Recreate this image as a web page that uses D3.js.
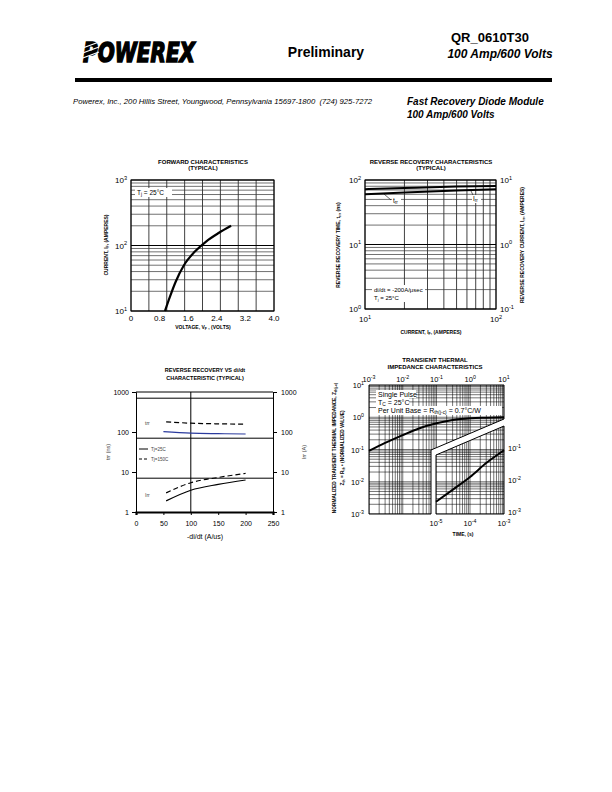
<!DOCTYPE html>
<html>
<head>
<meta charset="utf-8">
<script src="https://cdnjs.cloudflare.com/ajax/libs/d3/7.8.5/d3.min.js"></script>
<style>
body { margin: 0; background: #fff; }
svg { display: block; }
text { white-space: pre; }
</style>
</head>
<body>
<script>
// forward characteristics (volts, amperes)
var fwdVolts = [0.95, 1.08, 1.25, 1.48, 1.78, 2.1, 2.45, 2.8];
var fwdAmps = [10, 16, 28, 50, 80, 115, 155, 200];
var fwdVoltTicks = [0, 0.8, 1.6, 2.4, 3.2, 4.0];

// reverse recovery vs forward current
var rrAmps = [10, 20, 50, 100];
var rrTime = [60, 64, 69, 72];        // trr, ns (left axis)
var rrCurrent = [7.2, 7.5, 7.9, 8.1]; // Irr, A (right axis)

// reverse recovery vs di/dt
var didtA = [50, 100, 150, 200];
var didtB = [55, 100, 150, 200];
var trr25 = [102, 94, 91, 89];
var trr150 = [180, 166, 160, 157];
var irr25 = [1.9, 3.5, 4.9, 6.3];
var irr150 = [3.0, 5.4, 7.3, 9.2];
var didtTicks = [0, 50, 100, 150, 200, 250];
var recTicks = [1, 10, 100, 1000];
var recGrid = [7, 70, 700, 1000];

// transient thermal impedance
var zthTimeLong = [1e-3, 3e-3, 1e-2, 3e-2, 1e-1, 3e-1, 1, 3, 10];
var zthLong = [0.09, 0.16, 0.28, 0.45, 0.65, 0.82, 0.93, 0.97, 1.0];
var zthTimeShort = [1e-5, 3e-5, 1e-4, 3e-4, 1e-3];
var zthShort = [0.0024, 0.0055, 0.014, 0.038, 0.095];

var svg = d3.select("body").append("svg")
    .attr("width", 612)
    .attr("height", 792)
    .style("font-family", "'Liberation Sans', Arial, sans-serif");

svg.append("rect").attr("width", 612).attr("height", 792).attr("fill", "#fff");

// text with sub/superscripts: parts = ["10", ["3","sup"]]
function rich(g, x, y, parts, o) {
    var t = g.append("text")
        .attr("x", x).attr("y", y)
        .attr("font-size", o.size)
        .attr("text-anchor", o.anchor || "middle")
        .attr("font-weight", o.bold ? "bold" : "normal")
        .attr("font-style", o.italic ? "italic" : "normal")
        .attr("fill", o.fill || "#000");
    if (o.rotate) t.attr("transform", "rotate(" + o.rotate + " " + x + " " + y + ")");
    var cur = 0;
    parts.forEach(function(p) {
        if (typeof p === "string") p = [p, null];
        var off = p[1] === "sup" ? -0.4 * o.size : (p[1] === "sub" ? 0.2 * o.size : 0);
        var ts = t.append("tspan").attr("dy", off - cur).text(p[0]);
        if (p[1]) ts.attr("font-size", o.size * 0.7);
        cur = off;
    });
    return t;
}

function pow(g, x, y, e, anchor, size) {
    return rich(g, x, y, ["10", [String(e), "sup"]], {size: size, anchor: anchor});
}

function hline(g, x0, x1, y, w, c) {
    g.append("line").attr("x1", x0).attr("x2", x1).attr("y1", y).attr("y2", y)
        .attr("stroke", c || "#000").attr("stroke-width", w);
}
function vline(g, x, y0, y1, w, c) {
    g.append("line").attr("x1", x).attr("x2", x).attr("y1", y0).attr("y2", y1)
        .attr("stroke", c || "#000").attr("stroke-width", w);
}

// ---------------- header ----------------
var head = svg.append("g");
head.append("text")
    .attr("x", 83).attr("y", 62)
    .attr("font-family", "'DejaVu Sans', sans-serif")
    .attr("font-size", 27).attr("font-weight", "bold").attr("font-style", "italic")
    .attr("stroke", "#000").attr("stroke-width", 1.6)
    .attr("textLength", 112).attr("lengthAdjust", "spacingAndGlyphs")
    .text("POWEREX");
// stripes through the logo's first letter
[45, 50, 55].forEach(function(y) {
    head.append("line").attr("x1", 80).attr("x2", 99).attr("y1", y + 4).attr("y2", y - 3)
        .attr("stroke", "#fff").attr("stroke-width", 1.3);
});
head.append("text").attr("x", 326).attr("y", 57).attr("text-anchor", "middle")
    .attr("font-size", 14).attr("font-weight", "bold").text("Preliminary");
head.append("text").attr("x", 490).attr("y", 42).attr("text-anchor", "middle")
    .attr("font-size", 13).attr("font-weight", "bold").text("QR_0610T30");
head.append("text").attr("x", 500).attr("y", 58).attr("text-anchor", "middle")
    .attr("font-size", 12).attr("font-weight", "bold").attr("font-style", "italic")
    .text("100 Amp/600 Volts");
head.append("rect").attr("x", 75).attr("y", 78).attr("width", 477).attr("height", 4);
head.append("text").attr("x", 73).attr("y", 104)
    .attr("font-size", 7.7).attr("font-style", "italic")
    .text("Powerex, Inc., 200 Hillis Street, Youngwood, Pennsylvania 15697-1800  (724) 925-7272");
head.append("text").attr("x", 407).attr("y", 105)
    .attr("font-size", 10).attr("font-weight", "bold").attr("font-style", "italic")
    .text("Fast Recovery Diode Module");
head.append("text").attr("x", 407).attr("y", 118)
    .attr("font-size", 10).attr("font-weight", "bold").attr("font-style", "italic")
    .text("100 Amp/600 Volts");

// ---------------- forward characteristics ----------------
var g1 = svg.append("g");
var x1s = d3.scaleLinear().domain([0, 4]).range([131, 274]);
var y1s = d3.scaleLog().domain([10, 1000]).range([311, 180]);

x1s.ticks(10).forEach(function(v) { vline(g1, x1s(v), 180, 311, 0.8, "#111"); });
y1s.ticks().forEach(function(v) {
    var major = Math.abs(Math.log10(v) % 1) < 1e-9;
    hline(g1, 131, 274, y1s(v), major ? 1 : 0.7, major ? "#000" : "#333");
});
g1.append("rect").attr("x", 131).attr("y", 180).attr("width", 143).attr("height", 131)
    .attr("fill", "none").attr("stroke", "#000").attr("stroke-width", 1);

g1.append("rect").attr("x", 135).attr("y", 188).attr("width", 37).attr("height", 9).attr("fill", "#fff");
rich(g1, 137, 195, ["T", ["j", "sub"], " = 25°C"], {size: 6.5, anchor: "start"});

g1.append("path")
    .datum(d3.zip(fwdVolts, fwdAmps))
    .attr("fill", "none").attr("stroke", "#000").attr("stroke-width", 2.2)
    .attr("d", d3.line().x(d => x1s(d[0])).y(d => y1s(d[1])).curve(d3.curveMonotoneX));

fwdVoltTicks.forEach(function(v) {
    g1.append("text").attr("x", x1s(v)).attr("y", 321).attr("text-anchor", "middle")
        .attr("font-size", 8).text(v === 0 ? "0" : d3.format(".1f")(v));
});
[1, 2, 3].forEach(function(e) { pow(g1, 127, y1s(Math.pow(10, e)) + 3, e, "end", 8); });

g1.append("text").attr("x", 203).attr("y", 164).attr("text-anchor", "middle")
    .attr("font-size", 6).attr("font-weight", "bold").text("FORWARD CHARACTERISTICS");
g1.append("text").attr("x", 203).attr("y", 170).attr("text-anchor", "middle")
    .attr("font-size", 6).attr("font-weight", "bold").text("(TYPICAL)");
rich(g1, 108, 245, ["CURRENT, I", ["F", "sub"], ", (AMPERES)"], {size: 5, bold: true, rotate: -90});
rich(g1, 203, 329, ["VOLTAGE, V", ["F", "sub"], " , (VOLTS)"], {size: 5, bold: true});

// ---------------- reverse recovery characteristics ----------------
var g2 = svg.append("g");
var x2s = d3.scaleLog().domain([10, 100]).range([365, 496]);
var y2s = d3.scaleLog().domain([1, 100]).range([309, 180]);
var y2r = d3.scaleLog().domain([0.1, 10]).range([309, 180]);

x2s.ticks().forEach(function(v) { vline(g2, x2s(v), 180, 309, 0.8, "#111"); });
y2s.ticks().forEach(function(v) {
    var major = Math.abs(Math.log10(v) % 1) < 1e-9;
    hline(g2, 365, 496, y2s(v), major ? 1 : 0.7, major ? "#000" : "#333");
});
g2.append("rect").attr("x", 365).attr("y", 180).attr("width", 131).attr("height", 129)
    .attr("fill", "none").attr("stroke", "#000").attr("stroke-width", 1);

g2.append("path")
    .datum(d3.zip(rrAmps, rrTime))
    .attr("fill", "none").attr("stroke", "#000").attr("stroke-width", 2)
    .attr("d", d3.line().x(d => x2s(d[0])).y(d => y2s(d[1])).curve(d3.curveMonotoneX));
g2.append("path")
    .datum(d3.zip(rrAmps, rrCurrent))
    .attr("fill", "none").attr("stroke", "#000").attr("stroke-width", 2)
    .attr("d", d3.line().x(d => x2s(d[0])).y(d => y2r(d[1])).curve(d3.curveMonotoneX));

g2.append("line").attr("x1", 384).attr("y1", 194).attr("x2", 391).attr("y2", 200)
    .attr("stroke", "#000").attr("stroke-width", 0.6);
g2.append("rect").attr("x", 392).attr("y", 197).attr("width", 9).attr("height", 8).attr("fill", "#fff");
rich(g2, 393, 203, ["t", ["rr", "sub"]], {size: 6.5, anchor: "start"});
g2.append("line").attr("x1", 470).attr("y1", 189).attr("x2", 473).attr("y2", 195)
    .attr("stroke", "#000").attr("stroke-width", 0.6);
g2.append("rect").attr("x", 472).attr("y", 195).attr("width", 9).attr("height", 8).attr("fill", "#fff");
rich(g2, 473, 201, ["I", ["rr", "sub"]], {size: 6.5, anchor: "start"});

g2.append("rect").attr("x", 372).attr("y", 285).attr("width", 53).attr("height", 17).attr("fill", "#fff");
g2.append("text").attr("x", 374).attr("y", 292).attr("font-size", 6).text("di/dt = -200A/μsec");
rich(g2, 374, 300, ["T", ["j", "sub"], " = 25°C"], {size: 6, anchor: "start"});

pow(g2, 365, 322, 1, "middle", 8);
pow(g2, 496, 322, 2, "middle", 8);
[2, 1, 0].forEach(function(e) { pow(g2, 361, y2s(Math.pow(10, e)) + 3, e, "end", 8); });
[1, 0, -1].forEach(function(e) { pow(g2, 500, y2r(Math.pow(10, e)) + 3, e, "start", 8); });

g2.append("text").attr("x", 431).attr("y", 164).attr("text-anchor", "middle")
    .attr("font-size", 6).attr("font-weight", "bold").text("REVERSE RECOVERY CHARACTERISTICS");
g2.append("text").attr("x", 431).attr("y", 170).attr("text-anchor", "middle")
    .attr("font-size", 6).attr("font-weight", "bold").text("(TYPICAL)");
rich(g2, 340, 245, ["REVERSE RECOVERY TIME, t", ["rr", "sub"], ", (ns)"], {size: 5, bold: true, rotate: -90});
rich(g2, 524, 245, ["REVERSE RECOVERY CURRENT, I", ["rr", "sub"], ", (AMPERES)"], {size: 5, bold: true, rotate: -90});
rich(g2, 431, 334, ["CURRENT, I", ["F", "sub"], ", (AMPERES)"], {size: 5, bold: true});

// ---------------- reverse recovery vs di/dt ----------------
var g3 = svg.append("g");
var x3s = d3.scaleLinear().domain([0, 250]).range([136, 273]);
var y3s = d3.scaleLog().domain([1, 1000]).range([512, 392]);

recGrid.forEach(function(v) { hline(g3, 136, 273, y3s(v), 1); });
vline(g3, x3s(100), 392, 512, 1);

g3.append("g").attr("transform", "translate(136,0)")
    .call(d3.axisLeft(y3s).tickValues(recTicks).tickFormat(d3.format("d")).tickSize(4).tickPadding(3))
    .call(a => a.selectAll("text").attr("font-size", 7).attr("font-family", null));
g3.append("g").attr("transform", "translate(273,0)")
    .call(d3.axisRight(y3s).tickValues(recTicks).tickFormat(d3.format("d")).tickSize(4).tickPadding(4))
    .call(a => a.selectAll("text").attr("font-size", 7).attr("font-family", null));
g3.append("g").attr("transform", "translate(0,512)")
    .call(d3.axisBottom(x3s).tickValues(didtTicks).tickSize(3).tickPadding(6))
    .call(a => a.selectAll("text").attr("font-size", 7).attr("font-family", null))
    .call(a => a.select(".domain").attr("stroke-width", 2.2));
g3.selectAll(".domain").attr("stroke", "#000");

var line3 = d3.line().x(d => x3s(d[0])).y(d => y3s(d[1])).curve(d3.curveMonotoneX);
g3.append("path").datum(d3.zip(didtB, trr150))
    .attr("fill", "none").attr("stroke", "#000").attr("stroke-width", 1.2)
    .attr("stroke-dasharray", "5,3").attr("d", line3);
g3.append("path").datum(d3.zip(didtA, trr25))
    .attr("fill", "none").attr("stroke", "#2b3b9e").attr("stroke-width", 1.2).attr("d", line3);
g3.append("path").datum(d3.zip(didtB, irr150))
    .attr("fill", "none").attr("stroke", "#000").attr("stroke-width", 1.2)
    .attr("stroke-dasharray", "5,3").attr("d", line3);
g3.append("path").datum(d3.zip(didtB, irr25))
    .attr("fill", "none").attr("stroke", "#000").attr("stroke-width", 1.2).attr("d", line3);

g3.append("text").attr("x", 145).attr("y", 425).attr("font-size", 5).attr("fill", "#444").text("trr");
g3.append("text").attr("x", 145).attr("y", 497).attr("font-size", 5).attr("fill", "#444").text("Irr");
hline(g3, 139, 148, 449, 1);
g3.append("text").attr("x", 151).attr("y", 451).attr("font-size", 4.5).attr("fill", "#444").text("Tj=25C");
g3.append("line").attr("x1", 139).attr("x2", 148).attr("y1", 459).attr("y2", 459)
    .attr("stroke", "#000").attr("stroke-width", 1).attr("stroke-dasharray", "3,2");
g3.append("text").attr("x", 151).attr("y", 461).attr("font-size", 4.5).attr("fill", "#444").text("Tj=150C");

g3.append("text").attr("x", 205).attr("y", 372).attr("text-anchor", "middle")
    .attr("font-size", 5.5).attr("font-weight", "bold").text("REVERSE RECOVERY VS di/dt");
g3.append("text").attr("x", 205).attr("y", 380).attr("text-anchor", "middle")
    .attr("font-size", 5.5).attr("font-weight", "bold").text("CHARACTERISTIC (TYPICAL)");
g3.append("text").attr("transform", "translate(110,452) rotate(-90)").attr("text-anchor", "middle")
    .attr("font-size", 5.5).attr("fill", "#444").text("trr (ns)");
g3.append("text").attr("transform", "translate(306,452) rotate(-90)").attr("text-anchor", "middle")
    .attr("font-size", 5.5).attr("fill", "#444").text("Irr (A)");
g3.append("text").attr("x", 205).attr("y", 539).attr("text-anchor", "middle")
    .attr("font-size", 7).text("-di/dt (A/us)");

// ---------------- transient thermal impedance ----------------
var g4 = svg.append("g");
var x4top = d3.scaleLog().domain([1e-3, 10]).range([369, 504]);
var x4bot = d3.scaleLog().domain([1e-5, 1e-3]).range([436, 504]);
var y4 = d3.scaleLog().domain([1e-3, 10]).range([514, 385]);

var upperPoly = [[369, 385], [504, 385], [504, 419], [431, 450], [431, 514], [369, 514]];
var lowerPoly = [[436, 455], [504, 426], [504, 514], [436, 514]];
var defs = svg.append("defs");
defs.append("clipPath").attr("id", "clipUp").append("polygon").attr("points", upperPoly.join(" "));
defs.append("clipPath").attr("id", "clipLow").append("polygon").attr("points", lowerPoly.join(" "));

var up = g4.append("g").attr("clip-path", "url(#clipUp)");
x4top.ticks().forEach(function(v) { vline(up, x4top(v), 385, 514, 0.55); });
y4.ticks().forEach(function(v) { hline(up, 369, 504, y4(v), 0.55); });
var low = g4.append("g").attr("clip-path", "url(#clipLow)");
x4bot.ticks().forEach(function(v) { vline(low, x4bot(v), 385, 514, 0.55); });
y4.ticks().forEach(function(v) { hline(low, 436, 504, y4(v), 0.55); });

g4.append("polygon").attr("points", upperPoly.join(" "))
    .attr("fill", "none").attr("stroke", "#000").attr("stroke-width", 1);
g4.append("polygon").attr("points", lowerPoly.join(" "))
    .attr("fill", "none").attr("stroke", "#000").attr("stroke-width", 1);

g4.append("path").datum(d3.zip(zthTimeLong, zthLong))
    .attr("fill", "none").attr("stroke", "#000").attr("stroke-width", 2)
    .attr("d", d3.line().x(d => x4top(d[0])).y(d => y4(d[1])).curve(d3.curveMonotoneX));
g4.append("path").datum(d3.zip(zthTimeShort, zthShort))
    .attr("fill", "none").attr("stroke", "#000").attr("stroke-width", 2)
    .attr("d", d3.line().x(d => x4bot(d[0])).y(d => y4(d[1])).curve(d3.curveMonotoneX));

g4.append("rect").attr("x", 376).attr("y", 390).attr("width", 40).attr("height", 8).attr("fill", "#fff");
g4.append("rect").attr("x", 376).attr("y", 398).attr("width", 33).attr("height", 8).attr("fill", "#fff");
g4.append("rect").attr("x", 376).attr("y", 406).attr("width", 126).attr("height", 9).attr("fill", "#fff");
g4.append("text").attr("x", 378).attr("y", 396.5).attr("font-size", 7).text("Single Pulse");
rich(g4, 378, 404.5, ["T", ["C", "sub"], " = 25°C"], {size: 7, anchor: "start"});
rich(g4, 378, 412.5, ["Per Unit Base = R", ["th(j-c)", "sub"], " = 0.7°C/W"], {size: 7, anchor: "start"});

[-3, -2, -1, 0, 1].forEach(function(e) { pow(g4, x4top(Math.pow(10, e)), 382, e, "middle", 7.5); });
[1, 0, -1, -2, -3].forEach(function(e) { pow(g4, 364, y4(Math.pow(10, e)) + 3, e, "end", 7.5); });
[-1, -2, -3].forEach(function(e) { pow(g4, 508, y4(Math.pow(10, e)) + 1, e, "start", 7.5); });
[-5, -4, -3].forEach(function(e) { pow(g4, x4bot(Math.pow(10, e)), 526, e, "middle", 7.5); });

g4.append("text").attr("x", 435).attr("y", 362).attr("text-anchor", "middle")
    .attr("font-size", 6).attr("font-weight", "bold").text("TRANSIENT THERMAL");
g4.append("text").attr("x", 435).attr("y", 369).attr("text-anchor", "middle")
    .attr("font-size", 6).attr("font-weight", "bold").text("IMPEDANCE CHARACTERISTICS");
rich(g4, 336, 448, ["NORMALIZED TRANSIENT THERMAL IMPEDANCE, Z", ["th(j-c)", "sub"]], {size: 4.8, bold: true, rotate: -90});
rich(g4, 344, 448, ["Z", ["th", "sub"], " = R", ["th", "sub"], " • (NORMALIZED VALUE)"], {size: 4.8, bold: true, rotate: -90});
g4.append("text").attr("x", 463).attr("y", 536).attr("text-anchor", "middle")
    .attr("font-size", 5).attr("font-weight", "bold").text("TIME, (s)");
</script>
</body>
</html>
